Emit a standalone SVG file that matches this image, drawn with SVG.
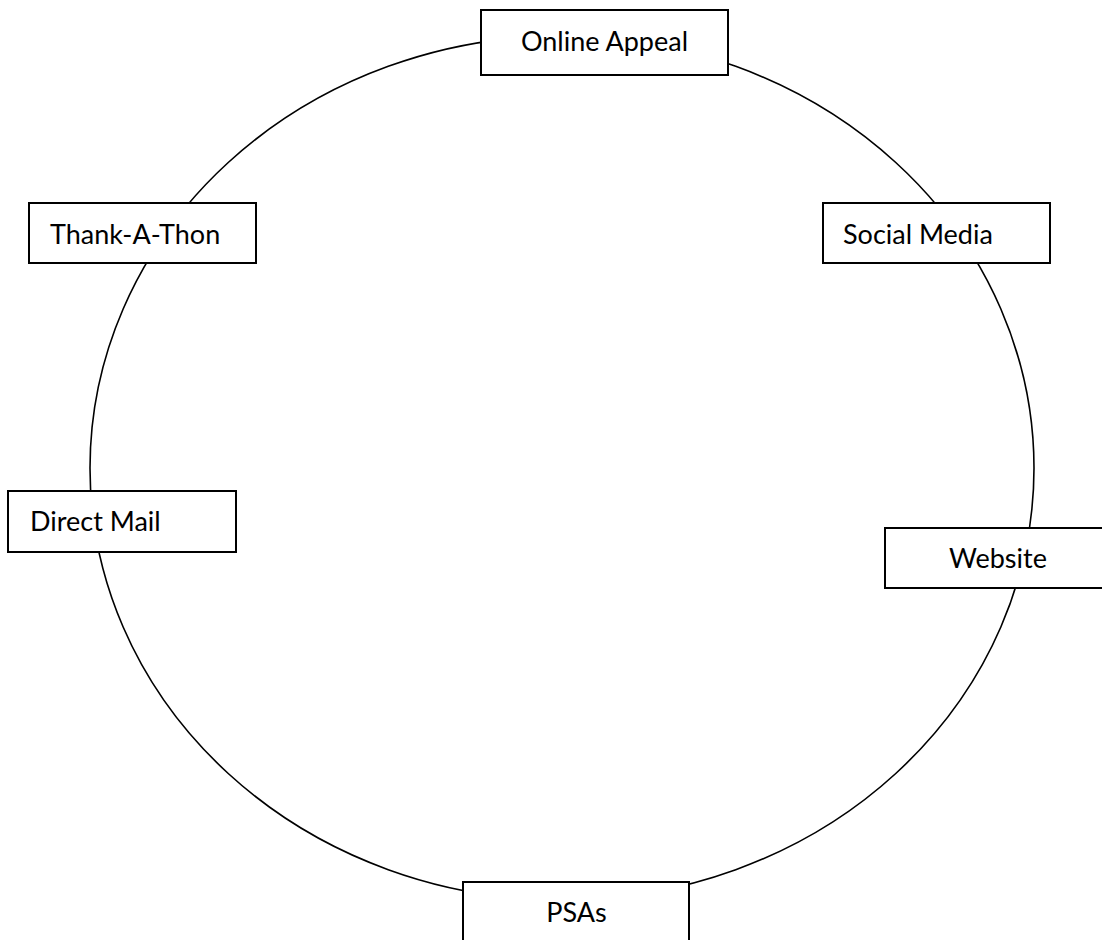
<svg xmlns="http://www.w3.org/2000/svg" width="1102" height="940" viewBox="0 0 1102 940">
<style>
.box{fill:#fff;stroke:#000;stroke-width:2}
.lbl{font-family:Lato,"Open Sans",sans-serif;font-size:27px;fill:#000}
.c{text-anchor:middle}
</style>
<rect width="1102" height="940" fill="#fff"/>
<g id="connectors">
<ellipse cx="562" cy="468" rx="472" ry="432" fill="none" stroke="#000" stroke-width="1.6"/>
</g>
<g id="online-appeal"><rect class="box" x="481" y="10" width="247" height="65"/><text class="lbl c" x="604.5" y="51">Online Appeal</text></g>
<g id="thank-a-thon"><rect class="box" x="29" y="203" width="227" height="60"/><text class="lbl" x="50" y="244">Thank-A-Thon</text></g>
<g id="social-media"><rect class="box" x="823" y="203" width="227" height="60"/><text class="lbl" x="843" y="244">Social Media</text></g>
<g id="direct-mail"><rect class="box" x="8" y="491" width="228" height="61"/><text class="lbl" x="30" y="531">Direct Mail</text></g>
<g id="website"><rect class="box" x="885" y="528" width="226" height="60"/><text class="lbl c" x="998" y="568">Website</text></g>
<g id="psas"><rect class="box" x="463" y="882" width="226" height="62"/><text class="lbl c" x="576.5" y="922">PSAs</text></g>
</svg>
